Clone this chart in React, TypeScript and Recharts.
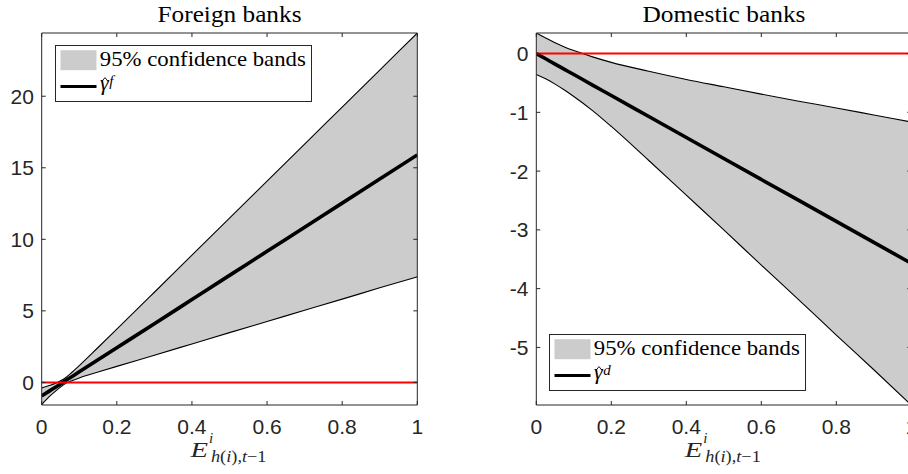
import React from 'react';
import { ComposedChart, Area, Line, XAxis, YAxis, ReferenceLine, Legend } from 'recharts';

// ---- Data ----
const xTicks = [0, 0.2, 0.4, 0.6, 0.8, 1];

const xsF = [0, 0.02, 0.04, 0.06, 0.08, 0.1, 0.15, 0.2, 0.3, 0.4, 0.5, 0.6, 0.7, 0.8, 0.9, 1];
const meanF = [-0.95, -0.61, -0.28, 0.06, 0.4, 0.74, 1.58, 2.42, 4.1, 5.79, 7.48, 9.16, 10.85, 12.53, 14.22, 15.9];
const upperF = [-0.39, -0.22, -0.02, 0.26, 0.69, 1.17, 2.44, 3.72, 6.3, 8.89, 11.48, 14.07, 16.66, 19.24, 21.83, 24.42];
const lowerF = [-1.55, -1.0, -0.54, -0.14, 0.11, 0.31, 0.72, 1.12, 1.9, 2.69, 3.48, 4.26, 5.04, 5.82, 6.61, 7.38];
const yTicksF = [0, 5, 10, 15, 20];
const yDomainF: [number, number] = [-1.58, 24.42];

const xsD = [0, 0.025, 0.05, 0.075, 0.1, 0.15, 0.2, 0.3, 0.4, 0.5, 0.6, 0.7, 0.8, 0.9, 1];
const meanD = [0, -0.089, -0.179, -0.268, -0.357, -0.536, -0.714, -1.071, -1.428, -1.785, -2.142, -2.499, -2.856, -3.213, -3.57];
const upperD = [0.35, 0.265, 0.184, 0.113, 0.051, -0.056, -0.15, -0.3, -0.44, -0.565, -0.69, -0.81, -0.925, -1.045, -1.165];
const lowerD = [-0.355, -0.43, -0.52, -0.62, -0.73, -0.97, -1.24, -1.82, -2.41, -3.0, -3.6, -4.19, -4.79, -5.38, -5.98];
const yTicksD = [-5, -4, -3, -2, -1, 0];
const yDomainD: [number, number] = [-5.98, 0.35];

const titleF = 'Foreign banks';
const titleD = 'Domestic banks';
const bandLabel = '95% confidence bands';

const buildRows = (xs: number[], lo: number[], mid: number[], hi: number[]) =>
  xs.map((x, i) => ({ x, lo: lo[i], mid: mid[i], hi: hi[i] }));

const dataF = buildRows(xsF, lowerF, meanF, upperF);
const dataD = buildRows(xsD, lowerD, meanD, upperD);

// ---- Styles ----
const AX = '#262626';
const SERIF = "'Liberation Serif', 'Times New Roman', serif";
const SANS = "'Liberation Sans', Arial, sans-serif";
const tickStyle = { fill: AX, fontSize: 21, fontFamily: SANS };
const serif = (size: number, italic = false): React.CSSProperties => ({
  fontFamily: SERIF,
  fontSize: size,
  fontStyle: italic ? 'italic' : 'normal',
  fontWeight: 400,
});

function LegendBox({ sup }: { sup: string }) {
  return (
    <svg width={258} height={58} style={{ display: 'block', overflow: 'visible' }}>
      <rect x={0.5} y={0.5} width={256} height={56} fill="#ffffff" stroke={AX} strokeWidth={1} />
      <rect x={5.5} y={5.2} width={36} height={20} fill="#cccccc" />
      <text x={44.8} y={21} style={serif(22)} fill="#000" textLength={206} lengthAdjust="spacingAndGlyphs">
        {bandLabel}
      </text>
      <line x1={5.5} x2={41.5} y1={41.5} y2={41.5} stroke="#000" strokeWidth={3.2} />
      <polyline points="47,36.3 50,32.6 53,36.3" fill="none" stroke="#000" strokeWidth={0.9} />
      <text x={45} y={45} style={serif(22, true)} fill="#000">
        <tspan>γ</tspan>
        <tspan dx={0.5} dy={-4.5} style={serif(15, true)}>{sup}</tspan>
      </text>
    </svg>
  );
}

type PanelProps = {
  data: { x: number; lo: number; mid: number; hi: number }[];
  yDomain: [number, number];
  yTicks: number[];
  marginLeft: number;
  marginRight: number;
  legendLeft: number;
  legendTop: number;
  sup: string;
};

function Panel({ data, yDomain, yTicks, marginLeft, marginRight, legendLeft, legendTop, sup }: PanelProps) {
  return (
    <ComposedChart
      width={460}
      height={474}
      data={data}
      margin={{ top: 32, right: marginRight, bottom: 68, left: marginLeft }}
    >
      <XAxis
        dataKey="x"
        type="number"
        domain={[0, 1]}
        ticks={xTicks}
        interval={0}
        allowDataOverflow
        orientation="bottom"
        height={1}
        tickSize={-4}
        tickMargin={18.4}
        stroke={AX}
        tick={tickStyle}
        tickFormatter={(v: number) => String(v)}
      />
      <XAxis
        xAxisId="top"
        dataKey="x"
        type="number"
        domain={[0, 1]}
        ticks={xTicks}
        interval={0}
        allowDataOverflow
        orientation="top"
        height={1}
        tickSize={-4}
        stroke={AX}
        tickFormatter={() => ''}
      />
      <YAxis
        type="number"
        domain={yDomain}
        ticks={yTicks}
        interval={0}
        allowDataOverflow
        orientation="left"
        width={1}
        tickSize={-4}
        tickMargin={11.8}
        stroke={AX}
        tick={tickStyle}
        tickFormatter={(v: number) => String(v)}
      />
      <YAxis
        yAxisId="right"
        type="number"
        domain={yDomain}
        ticks={yTicks}
        interval={0}
        allowDataOverflow
        orientation="right"
        width={1}
        tickSize={-4}
        stroke={AX}
        tickFormatter={() => ''}
      />
      <Area
        dataKey={(d: any) => [d.lo, d.hi]}
        type="monotone"
        fill="#cccccc"
        fillOpacity={1}
        stroke="none"
        isAnimationActive={false}
        activeDot={false}
      />
      <Line dataKey="hi" type="monotone" stroke="#000" strokeWidth={1.1} dot={false} activeDot={false} isAnimationActive={false} />
      <Line dataKey="lo" type="monotone" stroke="#000" strokeWidth={1.1} dot={false} activeDot={false} isAnimationActive={false} />
      <Line dataKey="mid" type="monotone" stroke="#000" strokeWidth={3.6} dot={false} activeDot={false} isAnimationActive={false} />
      <ReferenceLine y={0} stroke="#ff0000" strokeWidth={2} />
      <Legend
        layout="vertical"
        align="center"
        verticalAlign="middle"
        wrapperStyle={{ position: 'absolute', left: legendLeft, top: legendTop, width: 258, height: 58, margin: 0, padding: 0 }}
        content={() => <LegendBox sup={sup} />}
      />
    </ComposedChart>
  );
}

function XLabel({ cx }: { cx: number }) {
  return (
    <g>
      <text x={cx - 39} y={456.7} style={serif(21, true)} fill={AX} textLength={17.5} lengthAdjust="spacingAndGlyphs">E</text>
      <text x={cx - 20.5} y={443} style={serif(15, true)} fill={AX}>i</text>
      <text x={cx - 18.5} y={461.5} style={serif(16)} fill={AX} textLength={55.5} lengthAdjust="spacingAndGlyphs">
        <tspan style={serif(16, true)}>h</tspan>
        <tspan>(</tspan>
        <tspan style={serif(16, true)}>i</tspan>
        <tspan>),</tspan>
        <tspan style={serif(16, true)}>t</tspan>
        <tspan>{'\u22121'}</tspan>
      </text>
    </g>
  );
}

export default function App() {
  return (
    <div style={{ position: 'absolute', left: 0, top: 0, width: 908, height: 474, overflow: 'hidden', background: '#fff' }}>
      <div style={{ position: 'absolute', left: 0, top: 0 }}>
        <Panel
          data={dataF}
          yDomain={yDomainF}
          yTicks={yTicksF}
          marginLeft={40.7}
          marginRight={41.7}
          legendLeft={54.5}
          legendTop={45}
          sup="f"
        />
      </div>
      <div style={{ position: 'absolute', left: 480, top: 0 }}>
        <Panel
          data={dataD}
          yDomain={yDomainD}
          yTicks={yTicksD}
          marginLeft={55.3}
          marginRight={27.7}
          legendLeft={68.5}
          legendTop={333.5}
          sup="d"
        />
      </div>
      <svg width={908} height={474} style={{ position: 'absolute', left: 0, top: 0, pointerEvents: 'none' }}>
        <text x={229.5} y={21.5} textAnchor="middle" style={serif(23)} fill="#000" textLength={144} lengthAdjust="spacingAndGlyphs">
          {titleF}
        </text>
        <text x={724} y={21.5} textAnchor="middle" style={serif(23)} fill="#000" textLength={163} lengthAdjust="spacingAndGlyphs">
          {titleD}
        </text>
        <XLabel cx={229.5} />
        <XLabel cx={723.8} />
      </svg>
    </div>
  );
}
